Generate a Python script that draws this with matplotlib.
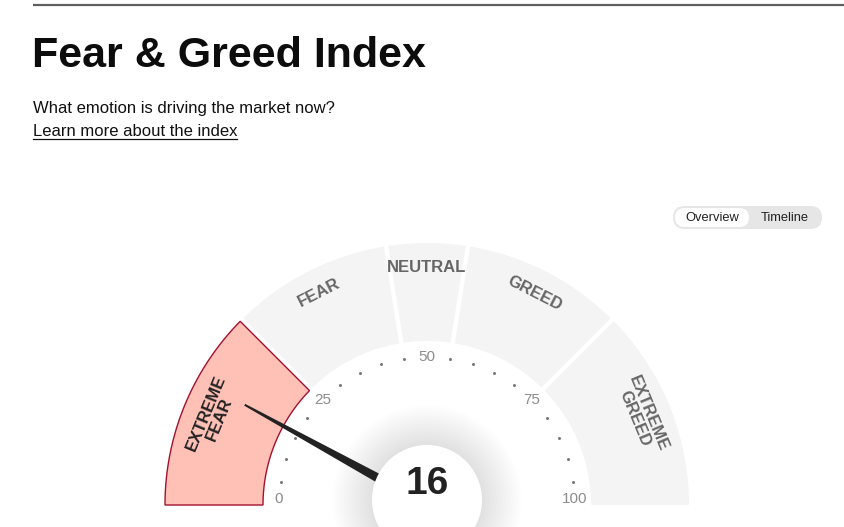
import numpy as np
import matplotlib.pyplot as plt
from matplotlib.patches import Polygon, Circle, FancyBboxPatch

# gauge data
value = 16
bounds = [0, 25, 45, 55, 75, 100]
zone_names = ["EXTREME\nFEAR", "FEAR", "NEUTRAL", "GREED", "EXTREME\nGREED"]
tick_labels = [0, 25, 50, 75, 100]
dot_values = [v for v in range(5, 100, 5) if v not in tick_labels]

title = "Fear & Greed Index"
subtitle = "What emotion is driving the market now?"
link = "Learn more about the index"

W, H = 844, 527
cx, cy = 427, 505          # gauge centre (pixels, y down)
R_out, R_in = 262, 164
gap = 2.2

def ang(v):
    return np.radians(180 - v * 1.8)

def pt(r, a):
    return cx + r * np.cos(a), cy - r * np.sin(a)

fig = plt.figure(figsize=(W / 100, H / 100), dpi=100)
ax = fig.add_axes([0, 0, 1, 1])
ax.set_xlim(0, W)
ax.set_ylim(H, 0)
ax.axis("off")

sans = ["Liberation Sans", "DejaVu Sans"]

# header
ax.plot([33, W], [5, 5], color="#5f5f5f", lw=1.6, solid_capstyle="butt")
ax.text(32, 67, title, fontsize=31, fontweight="bold", family=sans,
        color="#0c0c0c", va="baseline")
ax.text(33, 113, subtitle, fontsize=12, family=sans, color="#111", va="baseline")
ax.text(33, 136, link, fontsize=12, family=sans, color="#111", va="baseline")
ax.plot([33, 237], [139, 139], color="#111", lw=0.9)

# toggle
ax.add_patch(FancyBboxPatch((673, 206), 149, 23,
                            boxstyle="round,pad=0,rounding_size=11.5",
                            fc="#e6e6e6", ec="none"))
ax.add_patch(FancyBboxPatch((675, 208), 74, 19,
                            boxstyle="round,pad=0,rounding_size=9.5",
                            fc="white", ec="none"))
ax.text(712, 218, "Overview", fontsize=9.3, family=sans, color="#222",
        ha="center", va="center")
ax.text(785, 218, "Timeline", fontsize=9.3, family=sans, color="#222",
        ha="center", va="center")

# zones
for i in range(len(zone_names)):
    a1, a2 = ang(bounds[i + 1]), ang(bounds[i])
    g_lo = 0 if bounds[i + 1] == 100 else 1
    g_hi = 0 if bounds[i] == 0 else 1
    outer = np.linspace(a1 + g_lo * np.arcsin(gap / R_out),
                        a2 - g_hi * np.arcsin(gap / R_out), 120)
    inner = np.linspace(a2 - g_hi * np.arcsin(gap / R_in),
                        a1 + g_lo * np.arcsin(gap / R_in), 120)
    xy = [pt(R_out, a) for a in outer] + [pt(R_in, a) for a in inner]
    active = bounds[i] <= value < bounds[i + 1]
    if active:
        ax.add_patch(Polygon(xy, closed=True, fc="#ffc0b6", ec="#a3112f",
                             lw=1.0, zorder=2))
        tc = "#222222"
    else:
        ax.add_patch(Polygon(xy, closed=True, fc="#f4f4f4", ec="none", zorder=2))
        tc = "#666666"
    mid = (a1 + a2) / 2
    x, y = pt(238 if "\n" not in zone_names[i] else 232, mid)
    ax.text(x, y, zone_names[i], fontsize=12, fontweight="bold", family=sans,
            color=tc, ha="center", va="center", ma="center",
            rotation=np.degrees(mid) - 90, rotation_mode="anchor",
            linespacing=1.0, zorder=3)

# dots and tick labels
r_t = 148
for v in dot_values:
    x, y = pt(r_t, ang(v))
    ax.plot(x, y, "o", ms=2.2, color="#7a7a7a", mec="none", zorder=3)
for v in tick_labels:
    x, y = pt(r_t, ang(v))
    if v in (0, 100):
        ax.text(x, cy + 1, str(v), fontsize=11, family=sans, color="#8c8c8c",
                ha="center", va="bottom", zorder=3)
    else:
        ax.text(x, y, str(v), fontsize=11, family=sans, color="#8c8c8c",
                ha="center", va="center", zorder=3)

# soft shadow around centre disc
ccx, ccy, cr = 427, 500, 55
for k in range(30):
    rr = cr + 40 * (1 - k / 30)
    ax.add_patch(Circle((ccx, ccy), rr, fc="#000000", alpha=0.0026, ec="none",
                        zorder=4))

# needle
a = ang(value)
tip = np.array(pt(208, a))
base = np.array(pt(40, a))
nrm = np.array([np.sin(a), np.cos(a)])
needle = [tip + nrm * 1.0, base + nrm * 4.8, base - nrm * 4.8, tip - nrm * 1.0]
ax.add_patch(Polygon(needle, closed=True, fc="#222222", ec="none", zorder=5))

ax.add_patch(Circle((ccx, ccy), cr, fc="white", ec="none", zorder=6))
ax.text(427, 494, str(value), fontsize=28, fontweight="bold", family=sans,
        color="#222222", ha="center", va="baseline", zorder=7)

fig.savefig("out.png", dpi=100)
